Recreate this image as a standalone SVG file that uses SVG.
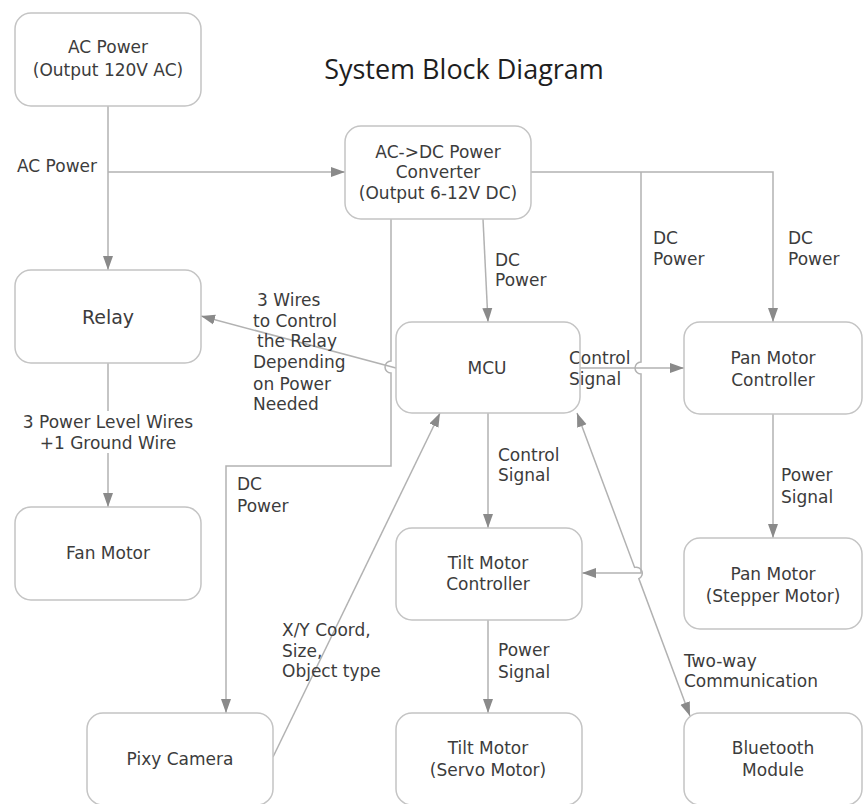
<svg xmlns="http://www.w3.org/2000/svg" width="863" height="804" viewBox="0 0 863 804">
  <style>
    .box { fill: #ffffff; stroke: #c4c4c4; stroke-width: 1.5; }
    .lbl { font-family: "DejaVu Sans", Verdana, sans-serif; font-size: 17px; fill: #3c3c3c; }
    .mid { text-anchor: middle; }
    .wire { fill: none; stroke: #b2b2b2; stroke-width: 1.5; }
    .title { font-family: "Open Sans", "Noto Sans", sans-serif; font-size: 27px; fill: #1e1e1e; text-anchor: middle; }
  </style>
  <defs>
    <marker id="arrow" viewBox="0 0 14 10" markerWidth="14" markerHeight="11" refX="14" refY="5" orient="auto-start-reverse" markerUnits="userSpaceOnUse">
      <path d="M0,0 L14,5 L0,10 z" fill="#8a8a8a"/>
    </marker>
  </defs>

  <rect width="863" height="804" fill="#ffffff"/>

  <text class="title" x="464" y="79">System Block Diagram</text>

  <!-- connectors -->
  <g id="connectors">
    <!-- AC supply to relay and converter -->
    <path class="wire" d="M108 106 V270" marker-end="url(#arrow)"/>
    <path class="wire" d="M108 172 H345" marker-end="url(#arrow)"/>
    <!-- DC bus to pan controller -->
    <path class="wire" d="M531 172 H773 V322" marker-end="url(#arrow)"/>
    <!-- DC branch to tilt controller, hopping over the control signal -->
    <path class="wire" d="M641 172 V362 A6 6 0 0 0 641 374 V573 H582" marker-end="url(#arrow)"/>
    <!-- DC to camera, hopping over the relay control line -->
    <path class="wire" d="M391 219 V361 A6 6 0 0 0 391 373 V466 H226 V713" marker-end="url(#arrow)"/>
    <!-- DC to MCU -->
    <path class="wire" d="M483 219 L488 322" marker-end="url(#arrow)"/>
    <!-- MCU to relay -->
    <path class="wire" d="M396 368 L201 316" marker-end="url(#arrow)"/>
    <!-- MCU to pan controller -->
    <path class="wire" d="M580 368 H684" marker-end="url(#arrow)"/>
    <!-- MCU to tilt controller -->
    <path class="wire" d="M488 413 V528" marker-end="url(#arrow)"/>
    <!-- tilt controller to tilt motor -->
    <path class="wire" d="M488 620 V713" marker-end="url(#arrow)"/>
    <!-- pan controller to pan motor -->
    <path class="wire" d="M773 414 V538" marker-end="url(#arrow)"/>
    <!-- relay to fan -->
    <path class="wire" d="M108 363 V507" marker-end="url(#arrow)"/>
    <!-- camera to MCU -->
    <path class="wire" d="M273 757 L440 413" marker-end="url(#arrow)"/>
    <!-- MCU and bluetooth, two-way -->
    <path class="wire" d="M577 413 L634.6 567.4 A6 6 0 0 1 638.8 578.6 L690 716" marker-start="url(#arrow)" marker-end="url(#arrow)"/>

    <!-- connector labels -->
    <text class="lbl" x="17" y="172">AC Power</text>
    <text class="lbl" x="495" y="266">DC</text>
    <text class="lbl" x="495" y="286">Power</text>
    <text class="lbl" x="653" y="244">DC</text>
    <text class="lbl" x="653" y="265">Power</text>
    <text class="lbl" x="788" y="244">DC</text>
    <text class="lbl" x="788" y="265">Power</text>
    <text class="lbl" x="569" y="364">Control</text>
    <text class="lbl" x="569" y="385">Signal</text>
    <text class="lbl" x="257" y="306">3 Wires</text>
    <text class="lbl" x="253" y="327">to Control</text>
    <text class="lbl" x="257" y="347">the Relay</text>
    <text class="lbl" x="253" y="368">Depending</text>
    <text class="lbl" x="253" y="390">on Power</text>
    <text class="lbl" x="253" y="410">Needed</text>
    <rect x="12" y="411" width="190" height="42" fill="#ffffff"/>
    <text class="lbl mid" x="108" y="428">3 Power Level Wires</text>
    <text class="lbl mid" x="108" y="449">+1 Ground Wire</text>
    <text class="lbl" x="498" y="461">Control</text>
    <text class="lbl" x="498" y="481">Signal</text>
    <text class="lbl" x="237" y="490">DC</text>
    <text class="lbl" x="237" y="512">Power</text>
    <text class="lbl" x="282" y="636">X/Y Coord,</text>
    <text class="lbl" x="282" y="657">Size,</text>
    <text class="lbl" x="282" y="677">Object type</text>
    <text class="lbl" x="498" y="656">Power</text>
    <text class="lbl" x="498" y="678">Signal</text>
    <text class="lbl" x="781" y="481">Power</text>
    <text class="lbl" x="781" y="503">Signal</text>
    <text class="lbl" x="684" y="667">Two-way</text>
    <text class="lbl" x="684" y="687">Communication</text>
  </g>

  <!-- nodes -->
  <g id="ac-power">
    <rect class="box" x="15" y="13" width="186" height="93" rx="16"/>
    <text class="lbl mid" x="108" y="53">AC Power</text>
    <text class="lbl mid" x="108" y="76">(Output 120V AC)</text>
  </g>
  <g id="converter">
    <rect class="box" x="345" y="126" width="186" height="93" rx="16"/>
    <text class="lbl mid" x="438" y="158">AC-&gt;DC Power</text>
    <text class="lbl mid" x="438" y="178">Converter</text>
    <text class="lbl mid" x="438" y="199">(Output 6-12V DC)</text>
  </g>
  <g id="relay">
    <rect class="box" x="15" y="270" width="186" height="93" rx="16"/>
    <text class="lbl mid" x="108" y="324" style="font-size:19px">Relay</text>
  </g>
  <g id="fan-motor">
    <rect class="box" x="15" y="507" width="186" height="93" rx="16"/>
    <text class="lbl mid" x="108" y="559">Fan Motor</text>
  </g>
  <g id="mcu">
    <rect class="box" x="396" y="322" width="184" height="91" rx="16" style="fill:none"/>
    <text class="lbl mid" x="487" y="374">MCU</text>
  </g>
  <g id="pan-controller">
    <rect class="box" x="684" y="322" width="178" height="92" rx="16"/>
    <text class="lbl mid" x="773" y="364">Pan Motor</text>
    <text class="lbl mid" x="773" y="386">Controller</text>
  </g>
  <g id="tilt-controller">
    <rect class="box" x="396" y="528" width="186" height="92" rx="16"/>
    <text class="lbl mid" x="488" y="569">Tilt Motor</text>
    <text class="lbl mid" x="488" y="590">Controller</text>
  </g>
  <g id="pan-motor">
    <rect class="box" x="684" y="538" width="178" height="91" rx="16"/>
    <text class="lbl mid" x="773" y="580">Pan Motor</text>
    <text class="lbl mid" x="773" y="602">(Stepper Motor)</text>
  </g>
  <g id="pixy-camera">
    <rect class="box" x="87" y="713" width="186" height="92" rx="16"/>
    <text class="lbl mid" x="180" y="765">Pixy Camera</text>
  </g>
  <g id="tilt-motor">
    <rect class="box" x="396" y="713" width="186" height="92" rx="16"/>
    <text class="lbl mid" x="488" y="754">Tilt Motor</text>
    <text class="lbl mid" x="488" y="776">(Servo Motor)</text>
  </g>
  <g id="bluetooth">
    <rect class="box" x="684" y="713" width="178" height="92" rx="16"/>
    <text class="lbl mid" x="773" y="754">Bluetooth</text>
    <text class="lbl mid" x="773" y="776">Module</text>
  </g>
</svg>
